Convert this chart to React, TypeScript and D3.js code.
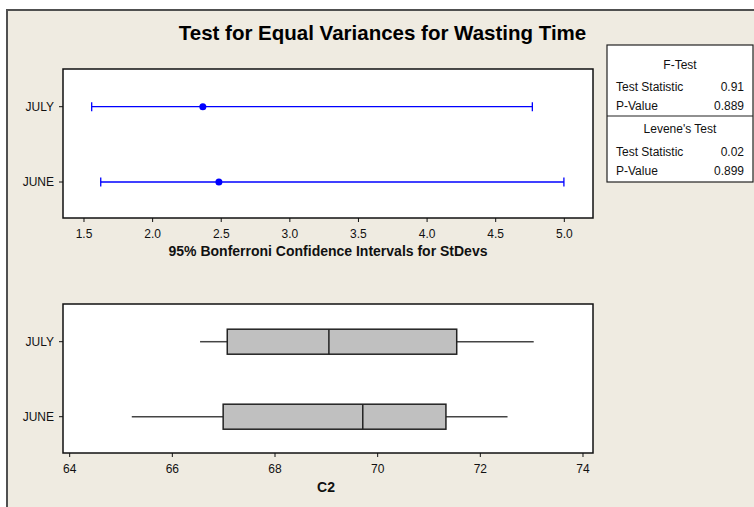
import React from "react";
import * as d3 from "d3";

const groups = ["JULY", "JUNE"];
// 95% Bonferroni CI for StDevs
const ciLower = [1.556, 1.622];
const ciPoint = [2.366, 2.483];
const ciUpper = [4.767, 4.997];
const ciTicks = [1.5, 2.0, 2.5, 3.0, 3.5, 4.0, 4.5, 5.0];
// Boxplot of C2
const boxMin = [66.54, 65.21];
const boxQ1 = [67.07, 66.99];
const boxMedian = [69.05, 69.71];
const boxQ3 = [71.54, 71.33];
const boxMax = [73.04, 72.53];
const boxTicks = [64, 66, 68, 70, 72, 74];

const fTest = [["Test Statistic", "0.91"], ["P-Value", "0.889"]];
const leveneTest = [["Test Statistic", "0.02"], ["P-Value", "0.899"]];

const FONT = "Tahoma, 'Liberation Sans', 'DejaVu Sans', sans-serif";

export default function App() {
  const W = 754, H = 507;
  const pL = 63, pR = 593;
  const top = { y0: 69, y1: 218 };
  const bot = { y0: 304, y1: 453 };

  const xCI = d3.scaleLinear().domain([1.347, 5.209]).range([pL, pR]);
  const yCI = d3.scalePoint().domain(groups).range([106.7, 182]);
  const xBox = d3.scaleLinear().domain([63.87, 74.195]).range([pL, pR]);
  const yBox = d3.scalePoint().domain(groups).range([341.7, 416.7]);
  const boxH = 25;

  const fmt1 = d3.format(".1f");

  const tableX0 = 607, tableX1 = 753;

  return (
    <svg width={W} height={H} style={{ position: "absolute", left: 0, top: 0 }} fontFamily={FONT}>
      <rect x={0} y={0} width={W} height={H} fill="#ffffff" />
      <rect x={7} y={10} width={W + 10} height={H + 10} fill="#EFEBE1" stroke="#505050" strokeWidth={2} />
      <text x={382.5} y={40} textAnchor="middle" fontSize={20.5} fontWeight="bold" fill="#000">
        Test for Equal Variances for Wasting Time
      </text>

      {/* Top panel */}
      <rect x={pL} y={top.y0} width={pR - pL} height={top.y1 - top.y0} fill="#fff" stroke="#111" strokeWidth={1.5} />
      {ciTicks.map((t) => (
        <g key={"ct" + t}>
          <line x1={xCI(t)} x2={xCI(t)} y1={top.y1} y2={top.y1 + 4} stroke="#111" strokeWidth={1} />
          <text x={xCI(t)} y={238} textAnchor="middle" fontSize={12} fill="#111">{fmt1(t)}</text>
        </g>
      ))}
      {groups.map((g) => (
        <g key={"cy" + g}>
          <line x1={pL - 4} x2={pL} y1={yCI(g)!} y2={yCI(g)!} stroke="#111" strokeWidth={1} />
          <text x={54} y={yCI(g)! + 4} textAnchor="end" fontSize={12} fill="#111">{g}</text>
        </g>
      ))}
      {groups.map((g, i) => {
        const y = yCI(g)!;
        return (
          <g key={"ci" + g} stroke="#0000FF" strokeWidth={1.3}>
            <line x1={xCI(ciLower[i])} x2={xCI(ciUpper[i])} y1={y} y2={y} />
            <line x1={xCI(ciLower[i])} x2={xCI(ciLower[i])} y1={y - 4.5} y2={y + 4.5} />
            <line x1={xCI(ciUpper[i])} x2={xCI(ciUpper[i])} y1={y - 4.5} y2={y + 4.5} />
            <circle cx={xCI(ciPoint[i])} cy={y} r={3.5} fill="#0000FF" stroke="none" />
          </g>
        );
      })}
      <text x={(pL + pR) / 2} y={256} textAnchor="middle" fontSize={14} fontWeight="bold" fill="#111">
        95% Bonferroni Confidence Intervals for StDevs
      </text>

      {/* Bottom panel */}
      <rect x={pL} y={bot.y0} width={pR - pL} height={bot.y1 - bot.y0} fill="#fff" stroke="#111" strokeWidth={1.5} />
      {boxTicks.map((t) => (
        <g key={"bt" + t}>
          <line x1={xBox(t)} x2={xBox(t)} y1={bot.y1} y2={bot.y1 + 4} stroke="#111" strokeWidth={1} />
          <text x={xBox(t)} y={473} textAnchor="middle" fontSize={12} fill="#111">{t}</text>
        </g>
      ))}
      {groups.map((g) => (
        <g key={"by" + g}>
          <line x1={pL - 4} x2={pL} y1={yBox(g)!} y2={yBox(g)!} stroke="#111" strokeWidth={1} />
          <text x={54} y={yBox(g)! + 4} textAnchor="end" fontSize={12} fill="#111">{g}</text>
        </g>
      ))}
      {groups.map((g, i) => {
        const y = yBox(g)!;
        return (
          <g key={"bx" + g}>
            <line x1={xBox(boxMin[i])} x2={xBox(boxQ1[i])} y1={y} y2={y} stroke="#444" strokeWidth={1.5} />
            <line x1={xBox(boxQ3[i])} x2={xBox(boxMax[i])} y1={y} y2={y} stroke="#444" strokeWidth={1.5} />
            <rect x={xBox(boxQ1[i])} y={y - boxH / 2} width={xBox(boxQ3[i]) - xBox(boxQ1[i])} height={boxH}
              fill="#C0C0C0" stroke="#222" strokeWidth={1.5} />
            <line x1={xBox(boxMedian[i])} x2={xBox(boxMedian[i])} y1={y - boxH / 2} y2={y + boxH / 2} stroke="#222" strokeWidth={1.5} />
          </g>
        );
      })}
      <text x={326} y={492} textAnchor="middle" fontSize={14} fontWeight="bold" fill="#111">C2</text>

      {/* Test table */}
      <rect x={tableX0} y={45} width={tableX1 - tableX0} height={137} fill="#fff" stroke="#222" strokeWidth={1.2} />
      <line x1={tableX0} x2={tableX1} y1={116} y2={116} stroke="#222" strokeWidth={1.2} />
      <text x={(tableX0 + tableX1) / 2} y={69} textAnchor="middle" fontSize={12} fill="#111">F-Test</text>
      {fTest.map((r, i) => (
        <g key={"f" + i}>
          <text x={616} y={91 + i * 19} fontSize={12} fill="#111">{r[0]}</text>
          <text x={744} y={91 + i * 19} textAnchor="end" fontSize={12} fill="#111">{r[1]}</text>
        </g>
      ))}
      <text x={(tableX0 + tableX1) / 2} y={132.5} textAnchor="middle" fontSize={12} fill="#111">Levene's Test</text>
      {leveneTest.map((r, i) => (
        <g key={"l" + i}>
          <text x={616} y={156 + i * 18.5} fontSize={12} fill="#111">{r[0]}</text>
          <text x={744} y={156 + i * 18.5} textAnchor="end" fontSize={12} fill="#111">{r[1]}</text>
        </g>
      ))}
    </svg>
  );
}
